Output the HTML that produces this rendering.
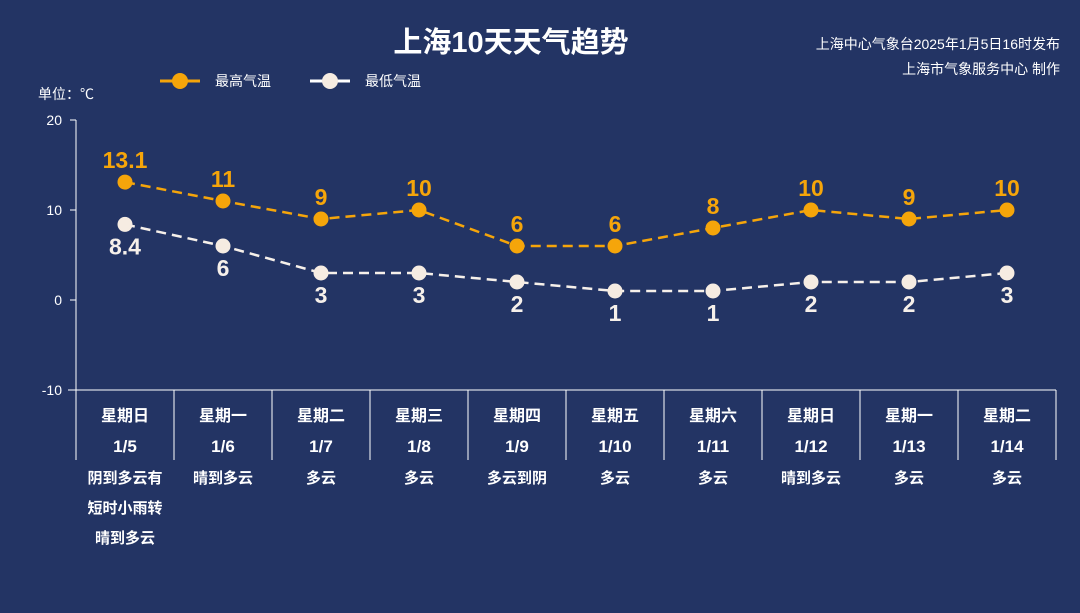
<!DOCTYPE html>
<html><head><meta charset="utf-8"><style>
html,body{margin:0;padding:0;background:#233464;}
svg{display:block;font-family:"Liberation Sans","Noto Sans CJK SC",sans-serif;}
</style></head><body>
<svg id="c" width="1080" height="613" viewBox="0 0 1080 613">
<rect width="1080" height="613" fill="#233464"/>
<text x="511" y="52" font-size="29" font-weight="bold" fill="#fff" text-anchor="middle">上海10天天气趋势</text>
<text x="1060" y="49" font-size="14" fill="#fff" text-anchor="end">上海中心气象台2025年1月5日16时发布</text>
<text x="1060" y="74" font-size="14" fill="#fff" text-anchor="end">上海市气象服务中心 制作</text>
<text x="38" y="99" font-size="14" fill="#fff">单位：℃</text>
<g>
<line x1="160" y1="81" x2="200" y2="81" stroke="#f5a50a" stroke-width="3"/><circle cx="180" cy="81" r="8" fill="#f5a50a"/>
<text x="215" y="86" font-size="14" fill="#fff">最高气温</text></g>
<g>
<line x1="310" y1="81" x2="350" y2="81" stroke="#fff" stroke-width="3"/><circle cx="330" cy="81" r="8" fill="#f6ece2"/>
<text x="365" y="86" font-size="14" fill="#fff">最低气温</text></g>
<g id="axes"></g>
<g id="marks"></g>
</svg>
<script>
const weekdays=["星期日","星期一","星期二","星期三","星期四","星期五","星期六","星期日","星期一","星期二"];
const dates=["1/5","1/6","1/7","1/8","1/9","1/10","1/11","1/12","1/13","1/14"];
const weather=[["阴到多云有","短时小雨转","晴到多云"],["晴到多云"],["多云"],["多云"],["多云到阴"],["多云"],["多云"],["晴到多云"],["多云"],["多云"]];
const highTemps=[13.1,11,9,10,6,6,8,10,9,10];
const lowTemps=[8.4,6,3,3,2,1,1,2,2,3];
const yTicks=[20,10,0,-10];
const NS="http://www.w3.org/2000/svg";
const x0=76,x1=1056,yTop=120,yBot=390,vMax=20,vMin=-10;
const bw=(x1-x0)/dates.length;
function xs(i){return x0+bw*(i+0.5);}
function ys(v){return yTop+(vMax-v)/(vMax-vMin)*(yBot-yTop);}
function mk(tag,attrs,parent){const e=document.createElementNS(NS,tag);for(const k in attrs)e.setAttribute(k,attrs[k]);parent.appendChild(e);return e;}
const ax=document.getElementById('axes'),mg=document.getElementById('marks');
const yl=mk('line',{x1:x0,y1:yTop,x2:x0,y2:yBot,stroke:'#fff','stroke-width':1},ax);


yTicks.forEach(t=>{
 mk('line',{x1:x0-6,y1:ys(t),x2:x0,y2:ys(t),stroke:'#fff'},ax);
 const tx=mk('text',{x:x0-14,y:ys(t)+5,'font-size':14,fill:'#fff','text-anchor':'end'},ax);tx.textContent=t;
 
 
});
const xl=mk('line',{x1:x0-8,y1:yBot,x2:x1,y2:yBot,stroke:'#fff'},ax);


for(let i=0;i<=dates.length;i++){mk('line',{x1:x0+bw*i,y1:yBot,x2:x0+bw*i,y2:460,stroke:'#fff'},ax);}
dates.forEach((d,i)=>{
 const g=mk('g',{},ax);
 
 
 const a=mk('text',{x:xs(i),y:421,'font-size':16,'font-weight':'bold',fill:'#fff','text-anchor':'middle'},g);a.textContent=weekdays[i];
 const b=mk('text',{x:xs(i),y:452,'font-size':17,'font-weight':'bold',fill:'#fff','text-anchor':'middle'},g);b.textContent=d;
 weather[i].forEach((w,j)=>{const c=mk('text',{x:xs(i),y:483+j*30,'font-size':15,'font-weight':'bold',fill:'#fff','text-anchor':'middle'},g);c.textContent=w;});
});
function series(vals,color,fill,name,above){
 const pts=vals.map((v,i)=>xs(i)+','+ys(v)).join(' ');
 const pl=mk('polyline',{points:pts,fill:'none',stroke:color,'stroke-width':2.5,'stroke-dasharray':'10,6'},mg);
 
 
 vals.forEach((v,i)=>{
  const c=mk('circle',{cx:xs(i),cy:ys(v),r:7.5,fill:fill},mg);
  
  
  const t=mk('text',{x:xs(i),y:above?ys(v)-14:ys(v)+30,'font-size':23,'font-weight':'bold',fill:color,'text-anchor':'middle'},mg);
  t.textContent=v;
  
  
 });
}
series(highTemps,'#f5a50a','#f5a50a','high-temp',true);
series(lowTemps,'#f6f0ea','#f6ece2','low-temp',false);
</script>
</body></html>
